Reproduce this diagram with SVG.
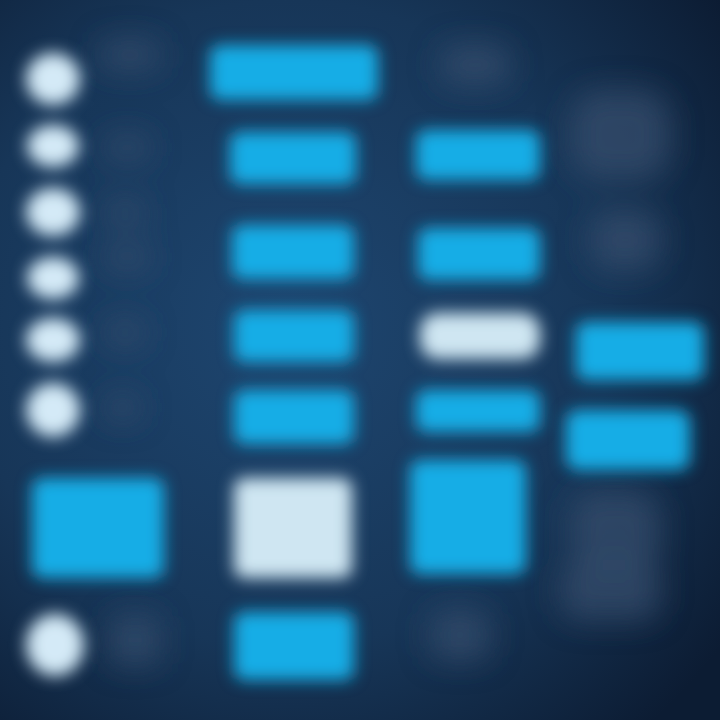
<svg xmlns="http://www.w3.org/2000/svg" width="720" height="720" viewBox="0 0 720 720">
<defs>
<radialGradient id="bg" cx="0.4" cy="0.45" r="0.75">
<stop offset="0" stop-color="#1e4670"/>
<stop offset="0.6" stop-color="#173658"/>
<stop offset="1" stop-color="#0c1c33"/>
</radialGradient>
<filter id="blur" x="-40%" y="-40%" width="180%" height="180%"><feGaussianBlur stdDeviation="8"/></filter>
<filter id="blur2" x="-50%" y="-50%" width="200%" height="200%"><feGaussianBlur stdDeviation="15"/></filter>
<style>
.blue{fill:#19ade6}
.white{fill:#cfe6f2}
.circ{fill:#d4eaf7}
.dim{fill:#36506e;opacity:0.7}
</style>
</defs>
<rect width="720" height="720" fill="url(#bg)"/>
<g id="dim" filter="url(#blur2)">
<rect class="dim" x="100" y="40" width="60" height="30" rx="10"/>
<rect class="dim" x="105" y="135" width="45" height="25" rx="10"/>
<rect class="dim" x="105" y="200" width="40" height="25" rx="10"/>
<rect class="dim" x="105" y="245" width="45" height="25" rx="10"/>
<rect class="dim" x="105" y="320" width="40" height="25" rx="10"/>
<rect class="dim" x="105" y="395" width="35" height="25" rx="10"/>
<rect class="dim" x="110" y="615" width="50" height="50" rx="10"/>
<rect class="dim" x="440" y="45" width="70" height="40" rx="15"/>
<rect class="dim" x="570" y="90" width="100" height="90" rx="30"/>
<rect class="dim" x="590" y="210" width="70" height="60" rx="20"/>
<rect class="dim" x="570" y="490" width="90" height="80" rx="25"/>
<rect class="dim" x="560" y="560" width="100" height="60" rx="20"/>
<rect class="dim" x="430" y="610" width="60" height="50" rx="15"/>
</g>
<g id="circles" filter="url(#blur)">
<ellipse class="circ" cx="53" cy="79" rx="27" ry="26"/>
<ellipse class="circ" cx="53" cy="146" rx="26" ry="21"/>
<ellipse class="circ" cx="53" cy="212" rx="27" ry="24"/>
<ellipse class="circ" cx="53" cy="278" rx="26" ry="21"/>
<ellipse class="circ" cx="53" cy="340" rx="27" ry="22"/>
<ellipse class="circ" cx="53" cy="410" rx="27" ry="27"/>
<ellipse class="circ" cx="55" cy="645" rx="29" ry="31"/>
</g>
<g id="col1" filter="url(#blur)">
<rect class="blue" x="32" y="478" width="132" height="100" rx="10"/>
</g>
<g id="col2" filter="url(#blur)">
<rect class="blue" x="210" y="45" width="168" height="55" rx="10"/>
<rect class="blue" x="230" y="132" width="126" height="52" rx="10"/>
<rect class="blue" x="232" y="225" width="122" height="54" rx="10"/>
<rect class="blue" x="234" y="310" width="120" height="52" rx="10"/>
<rect class="blue" x="234" y="390" width="120" height="54" rx="10"/>
<rect class="white" x="234" y="478" width="118" height="100" rx="10"/>
<rect class="blue" x="234" y="612" width="120" height="68" rx="10"/>
</g>
<g id="col3" filter="url(#blur)">
<rect class="blue" x="416" y="130" width="124" height="50" rx="10"/>
<rect class="blue" x="418" y="228" width="122" height="52" rx="10"/>
<rect class="white" x="420" y="313" width="120" height="46" rx="18"/>
<rect class="blue" x="416" y="390" width="124" height="42" rx="10"/>
<rect class="blue" x="410" y="460" width="116" height="114" rx="10"/>
</g>
<g id="col4" filter="url(#blur)">
<rect class="blue" x="576" y="322" width="128" height="58" rx="10"/>
<rect class="blue" x="566" y="410" width="124" height="60" rx="12"/>
</g>
<g id="connectors"></g>
</svg>
